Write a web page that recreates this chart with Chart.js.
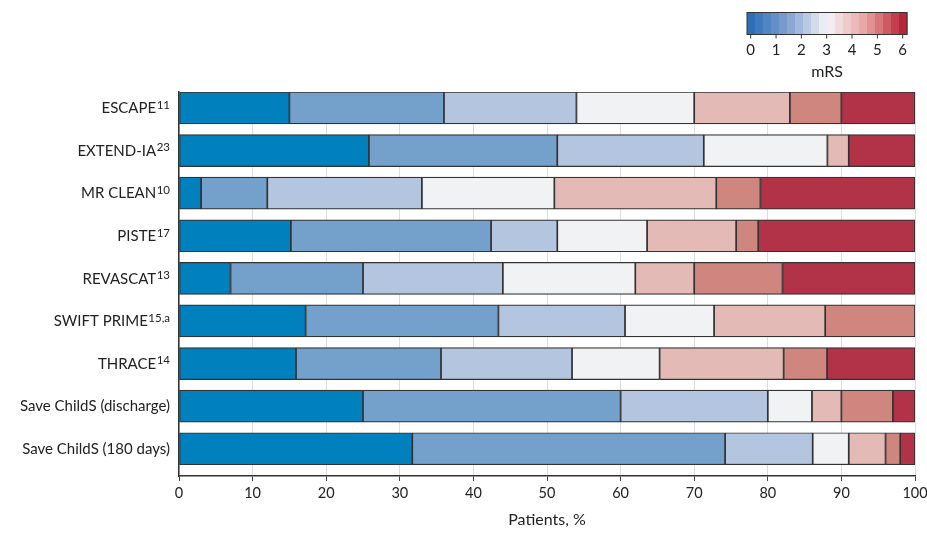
<!DOCTYPE html>
<html>
<head>
<meta charset="utf-8">
<script src="https://cdn.jsdelivr.net/npm/chart.js@4"></script>
<style>
html,body{margin:0;padding:0;background:#fff;}
canvas{display:block;}
</style>
</head>
<body>
<canvas id="c" width="927" height="542"></canvas>
<script>
// ---- data ----
const categories = ['ESCAPE', 'EXTEND-IA', 'MR CLEAN', 'PISTE', 'REVASCAT', 'SWIFT PRIME', 'THRACE', 'Save ChildS (discharge)', 'Save ChildS (180 days)'];
const superscripts = ['11', '23', '10', '17', '13', '15,a', '14', '', ''];
const mrs0 = [15, 25.8, 3, 15.2, 7, 17.2, 15.9, 25, 31.7];
const mrs1 = [21, 25.6, 9, 27.2, 18, 26.2, 19.7, 35, 42.5];
const mrs2 = [18, 19.9, 21, 9.0, 19, 17.2, 17.8, 20, 11.9];
const mrs3 = [16, 16.8, 18, 12.2, 18, 12.1, 11.9, 6, 4.9];
const mrs4 = [13, 2.9, 22, 12.1, 8, 15.1, 16.85, 4, 5];
const mrs5 = [7, 0, 6, 3.0, 12, 12.2, 5.9, 7, 2];
const mrs6 = [10, 9, 21, 21.3, 18, 0, 11.95, 3, 2];
const seriesNames = ['mRS 0', 'mRS 1', 'mRS 2', 'mRS 3', 'mRS 4', 'mRS 5', 'mRS 6'];
const colorbarTicks = ['0', '1', '2', '3', '4', '5', '6'];
const xAxisTitle = 'Patients, %';
const colorbarTitle = 'mRS';

// ---- styles ----
const seriesColors = ['#0080bd', '#74a0cc', '#b4c5df', '#f1f2f4', '#e4bab6', '#cf867e', '#b23348'];
const FONT = 'Lato, "Open Sans", sans-serif';
const series = [mrs0, mrs1, mrs2, mrs3, mrs4, mrs5, mrs6];

const datasets = series.map((vals, k) => ({
  label: seriesNames[k],
  data: vals.map((v, i) => ({x: v, y: i})),
  backgroundColor: seriesColors[k],
  borderColor: '#333',
  borderWidth: 1.2,
  borderSkipped: false,
  barThickness: 32
}));

function lerp(a, b, t) { return a + (b - a) * t; }
const cbStops = [
  [0, [33, 106, 180]],
  [0.25, [128, 158, 208]],
  [0.5, [246, 245, 248]],
  [0.75, [232, 158, 158]],
  [1, [180, 22, 42]]
];
function cbColor(t) {
  for (let s = 0; s < cbStops.length - 1; s++) {
    const [t0, c0] = cbStops[s], [t1, c1] = cbStops[s + 1];
    if (t >= t0 && t <= t1) {
      const u = (t - t0) / (t1 - t0);
      return 'rgb(' + c0.map((c, j) => Math.round(lerp(c, c1[j], u))).join(',') + ')';
    }
  }
  return 'rgb(180,22,42)';
}

const labelPlugin = {
  id: 'ylabels',
  afterDraw(chart) {
    const ctx = chart.ctx;
    const ys = chart.scales.y;
    ctx.save();
    ctx.fillStyle = '#222';
    ctx.textAlign = 'right';
    ctx.textBaseline = 'alphabetic';
    const right = ys.right - 9;
    categories.forEach((name, i) => {
      const yc = ys.getPixelForValue(i);
      let sw = 0;
      if (superscripts[i]) {
        ctx.font = '11.5px ' + FONT;
        sw = ctx.measureText(superscripts[i]).width + 0.5;
        ctx.fillText(superscripts[i], right, yc + 0.8);
      }
      ctx.font = '15px ' + FONT;
      ctx.fillText(name, right - sw, yc + 5.3);
    });
    ctx.restore();
  }
};

const colorbarPlugin = {
  id: 'colorbar',
  afterDraw(chart) {
    const ctx = chart.ctx;
    const x0 = 747, x1 = 907, y0 = 12.5, y1 = 34.5;
    const steps = 20;
    const w = (x1 - x0) / steps;
    ctx.save();
    for (let i = 0; i < steps; i++) {
      ctx.fillStyle = cbColor((i + 0.5) / steps);
      ctx.fillRect(x0 + i * w, y0, w + 0.5, y1 - y0);
    }
    ctx.strokeStyle = '#333';
    ctx.lineWidth = 1;
    ctx.strokeRect(x0, y0, x1 - x0, y1 - y0);
    const t0 = 750.7, dt = (902.7 - 750.7) / (colorbarTicks.length - 1);
    ctx.fillStyle = '#222';
    ctx.font = '15px ' + FONT;
    ctx.textAlign = 'center';
    ctx.textBaseline = 'middle';
    colorbarTicks.forEach((t, i) => {
      const x = t0 + i * dt;
      ctx.beginPath();
      ctx.moveTo(x, y1);
      ctx.lineTo(x, y1 + 4);
      ctx.stroke();
      ctx.fillText(t, x, 50.5);
    });
    ctx.font = '16px ' + FONT;
    ctx.fillText(colorbarTitle, (x0 + x1) / 2, 72);
    ctx.restore();
  }
};

new Chart(document.getElementById('c'), {
  type: 'bar',
  data: {datasets},
  options: {
    indexAxis: 'y',
    responsive: false,
    animation: false,
    layout: {padding: {top: 92, right: 12, bottom: 0, left: 0}},
    plugins: {legend: {display: false}, tooltip: {enabled: false}},
    scales: {
      x: {
        type: 'linear', stacked: true, min: 0, max: 100,
        ticks: {stepSize: 10, color: '#222', font: {family: FONT, size: 14.5}, padding: 4},
        grid: {color: '#dddddd', lineWidth: 1, tickColor: '#444', tickLength: 5},
        border: {display: true, color: '#333', width: 1.5},
        title: {display: true, text: xAxisTitle, color: '#222', font: {family: FONT, size: 16}, padding: {top: 0, bottom: 13}},
        afterFit(s) { s.height = 66; s.paddingLeft = 0; s.paddingRight = 0; }
      },
      y: {
        type: 'linear', stacked: true, reverse: true, min: -0.375, max: 8.64, offset: false,
        ticks: {display: false},
        grid: {display: false, drawTicks: false},
        border: {display: true, color: '#333', width: 1.5},
        afterFit(s) { s.width = 179; s.paddingTop = 0; s.paddingBottom = 0; }
      }
    }
  },
  plugins: [labelPlugin, colorbarPlugin]
});
</script>
</body>
</html>
